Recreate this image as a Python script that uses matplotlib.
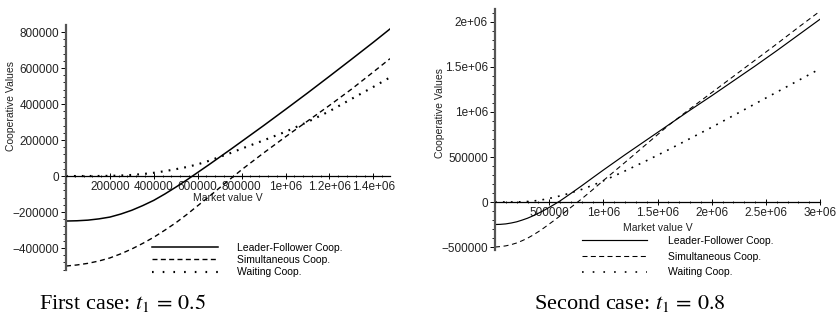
import numpy as np
import matplotlib
matplotlib.use("Agg")
import matplotlib.pyplot as plt
from matplotlib.lines import Line2D
from matplotlib.ticker import FixedLocator, MultipleLocator

plt.rcParams["font.family"] = ["Liberation Sans", "DejaVu Sans"]
plt.rcParams["mathtext.fontset"] = "stix"
plt.rcParams["lines.scale_dashes"] = False

series_names = ["Leader-Follower Coop.", "Simultaneous Coop.", "Waiting Coop."]

# case 1: t1 = 0.5
v1 = [0, 50e3, 100e3, 150e3, 200e3, 250e3, 300e3, 350e3, 400e3, 450e3, 500e3,
      550e3, 600e3, 650e3, 700e3, 750e3, 800e3, 900e3,
      1.0e6, 1.1e6, 1.2e6, 1.3e6, 1.4e6, 1.476e6]
leader1 = [-250000, -248500, -245000, -238000, -228000, -211000, -190000, -164000,
           -135000, -100000, -62000, -22000, 20000, 62000, 105000, 148000,
           192000, 280000, 370000, 461000, 554000, 648000, 743000, 817000]
simult1 = [-500000, -494000, -485000, -472000, -455000, -432000, -405000, -374000,
           -340000, -301000, -260000, -214000, -165000, -116000, -65000, -15000,
           35000, 128000, 218000, 305000, 392000, 482000, 578000, 652000]
waiting1 = [0, 0, 0, 200, 1000, 3000, 6000, 11000,
            18000, 27000, 38000, 50000, 65000, 84000, 106000, 128000,
            152000, 198000, 246000, 300000, 360000, 428000, 495000, 548000]
xticks1 = [200000, 400000, 600000, 800000, 1e6, 1.2e6, 1.4e6]
xlabels1 = ["200000", "400000", "600000", "800000", "1e+06", "1.2e+06", "1.4e+06"]
yticks1 = [-400000, -200000, 0, 200000, 400000, 600000, 800000]
ylabels1 = ["\u2212400000", "\u2212200000", "0", "200000", "400000", "600000", "800000"]

# case 2: t1 = 0.8
v2 = [0, 50e3, 100e3, 150e3, 200e3, 250e3, 300e3, 350e3, 400e3, 450e3, 500e3,
      550e3, 600e3, 650e3, 700e3, 800e3, 900e3,
      1.0e6, 1.2e6, 1.4e6, 1.6e6, 1.8e6, 2.0e6, 2.2e6, 2.4e6, 2.6e6, 2.8e6, 3.0e6]
leader2 = [-250000, -248000, -243000, -233000, -220000, -201000, -180000, -154000,
           -125000, -94000, -60000, -25000, 12000, 53000, 95000,
           180000, 268000, 355000, 525000, 690000, 855000, 1020000, 1180000,
           1345000, 1510000, 1680000, 1855000, 2030000]
simult2 = [-500000, -495000, -487000, -473000, -455000, -430000, -402000, -368000,
           -330000, -289000, -245000, -201000, -155000, -108000, -60000,
           35000, 135000, 238000, 440000, 645000, 850000, 1035000, 1215000,
           1395000, 1575000, 1755000, 1940000, 2120000]
waiting2 = [0, 0, 0, 200, 1000, 3000, 6000, 11000,
            18000, 28000, 40000, 53000, 68000, 84000, 102000,
            140000, 185000, 235000, 345000, 460000, 580000, 705000, 830000,
            960000, 1090000, 1220000, 1350000, 1480000]
xticks2 = [500000, 1e6, 1.5e6, 2e6, 2.5e6, 3e6]
xlabels2 = ["500000", "1e+06", "1.5e+06", "2e+06", "2.5e+06", "3e+06"]
yticks2 = [-500000, 0, 500000, 1e6, 1.5e6, 2e6]
ylabels2 = ["\u2212500000", "0", "500000", "1e+06", "1.5e+06", "2e+06"]

solid = "-"
dashed = (0, (3.6, 2.6))
dotted = (0, (1.3, 4.4))


def draw_case(ax, v, lf, sim, wait, xt, xl, yt, yl, xminor, yminor, lw):
    ax.plot(v, lf, color="black", lw=lw, linestyle=solid)
    ax.plot(v, sim, color="black", lw=lw * 0.9, linestyle=dashed)
    ax.plot(v, wait, color="black", lw=lw * 1.4, linestyle=dotted)

    # axes cross at the origin
    for side in ["top", "right"]:
        ax.spines[side].set_visible(False)
    ax.spines["left"].set_position(("data", 0))
    ax.spines["bottom"].set_position(("data", 0))
    ax.spines["left"].set_color("#555555")
    ax.spines["left"].set_linewidth(1.6)
    ax.spines["bottom"].set_linewidth(0.9)

    ax.xaxis.set_major_locator(FixedLocator(xt))
    ax.set_xticklabels(xl)
    ax.yaxis.set_major_locator(FixedLocator(yt))
    ax.set_yticklabels(yl)
    ax.xaxis.set_minor_locator(MultipleLocator(xminor))
    ax.yaxis.set_minor_locator(MultipleLocator(yminor))
    ax.tick_params(axis="x", which="major", direction="inout", length=4,
                   width=0.7, labelsize=8.5, pad=1.5, labelcolor="#222222")
    ax.tick_params(axis="x", which="minor", direction="inout", length=2, width=0.6)
    ax.tick_params(axis="y", which="major", direction="out", length=3.5,
                   width=0.7, labelsize=8.5, pad=1.5, labelcolor="#222222")
    ax.tick_params(axis="y", which="minor", direction="out", length=2, width=0.6)

    ax.set_xlabel("Market value V", fontsize=7.5, color="#222222")
    ax.set_ylabel("Cooperative Values", fontsize=7.5, color="#222222")


def legend_handles(lw):
    return [
        Line2D([], [], color="black", lw=lw, linestyle=solid),
        Line2D([], [], color="black", lw=lw * 0.9, linestyle=(0, (3.6, 2.4))),
        Line2D([], [], color="black", lw=lw * 1.4, linestyle=(0, (1.2, 6.5))),
    ]


fig = plt.figure(figsize=(8.37, 3.2), dpi=100)

ax1 = fig.add_axes([66 / 837, 1 - 270 / 320, 324 / 837, 245 / 320])
draw_case(ax1, v1, leader1, simult1, waiting1, xticks1, xlabels1,
          yticks1, ylabels1, 40000, 40000, 1.1)
ax1.set_xlim(0, 1.476e6)
ax1.set_ylim(-522000, 839000)
ax1.xaxis.set_label_coords(0.5, 0.314)
ax1.yaxis.set_label_coords(-0.154, 0.669)

ax2 = fig.add_axes([495 / 837, 1 - 250 / 320, 325 / 837, 241 / 320])
draw_case(ax2, v2, leader2, simult2, waiting2, xticks2, xlabels2,
          yticks2, ylabels2, 100000, 100000, 0.85)
ax2.set_xlim(0, 3.0e6)
ax2.set_ylim(-533000, 2144000)
ax2.xaxis.set_label_coords(0.5, 0.1125)
ax2.yaxis.set_label_coords(-0.154, 0.569)

fig.legend(legend_handles(1.1), series_names, loc="upper left",
           bbox_to_anchor=(152 / 837, 1 - 243 / 320), frameon=False,
           fontsize=7.5, handlelength=6.3, handletextpad=1.9,
           labelspacing=0.2, borderpad=0, borderaxespad=0)
fig.legend(legend_handles(0.85), series_names, loc="upper left",
           bbox_to_anchor=(582 / 837, 1 - 236 / 320), frameon=False,
           fontsize=7.5, handlelength=6.25, handletextpad=2.0,
           labelspacing=0.55, borderpad=0, borderaxespad=0)

caption_font = dict(family=["Liberation Serif", "DejaVu Serif"], fontsize=16,
                    ha="center", va="center")
fig.text(122 / 837, 1 - 303 / 320, "First case: $t_1\\, =\\, 0.5$", **caption_font)
fig.text(630 / 837, 1 - 303 / 320, "Second case: $t_1\\, =\\, 0.8$", **caption_font)

fig.savefig("out.png", dpi=100)
